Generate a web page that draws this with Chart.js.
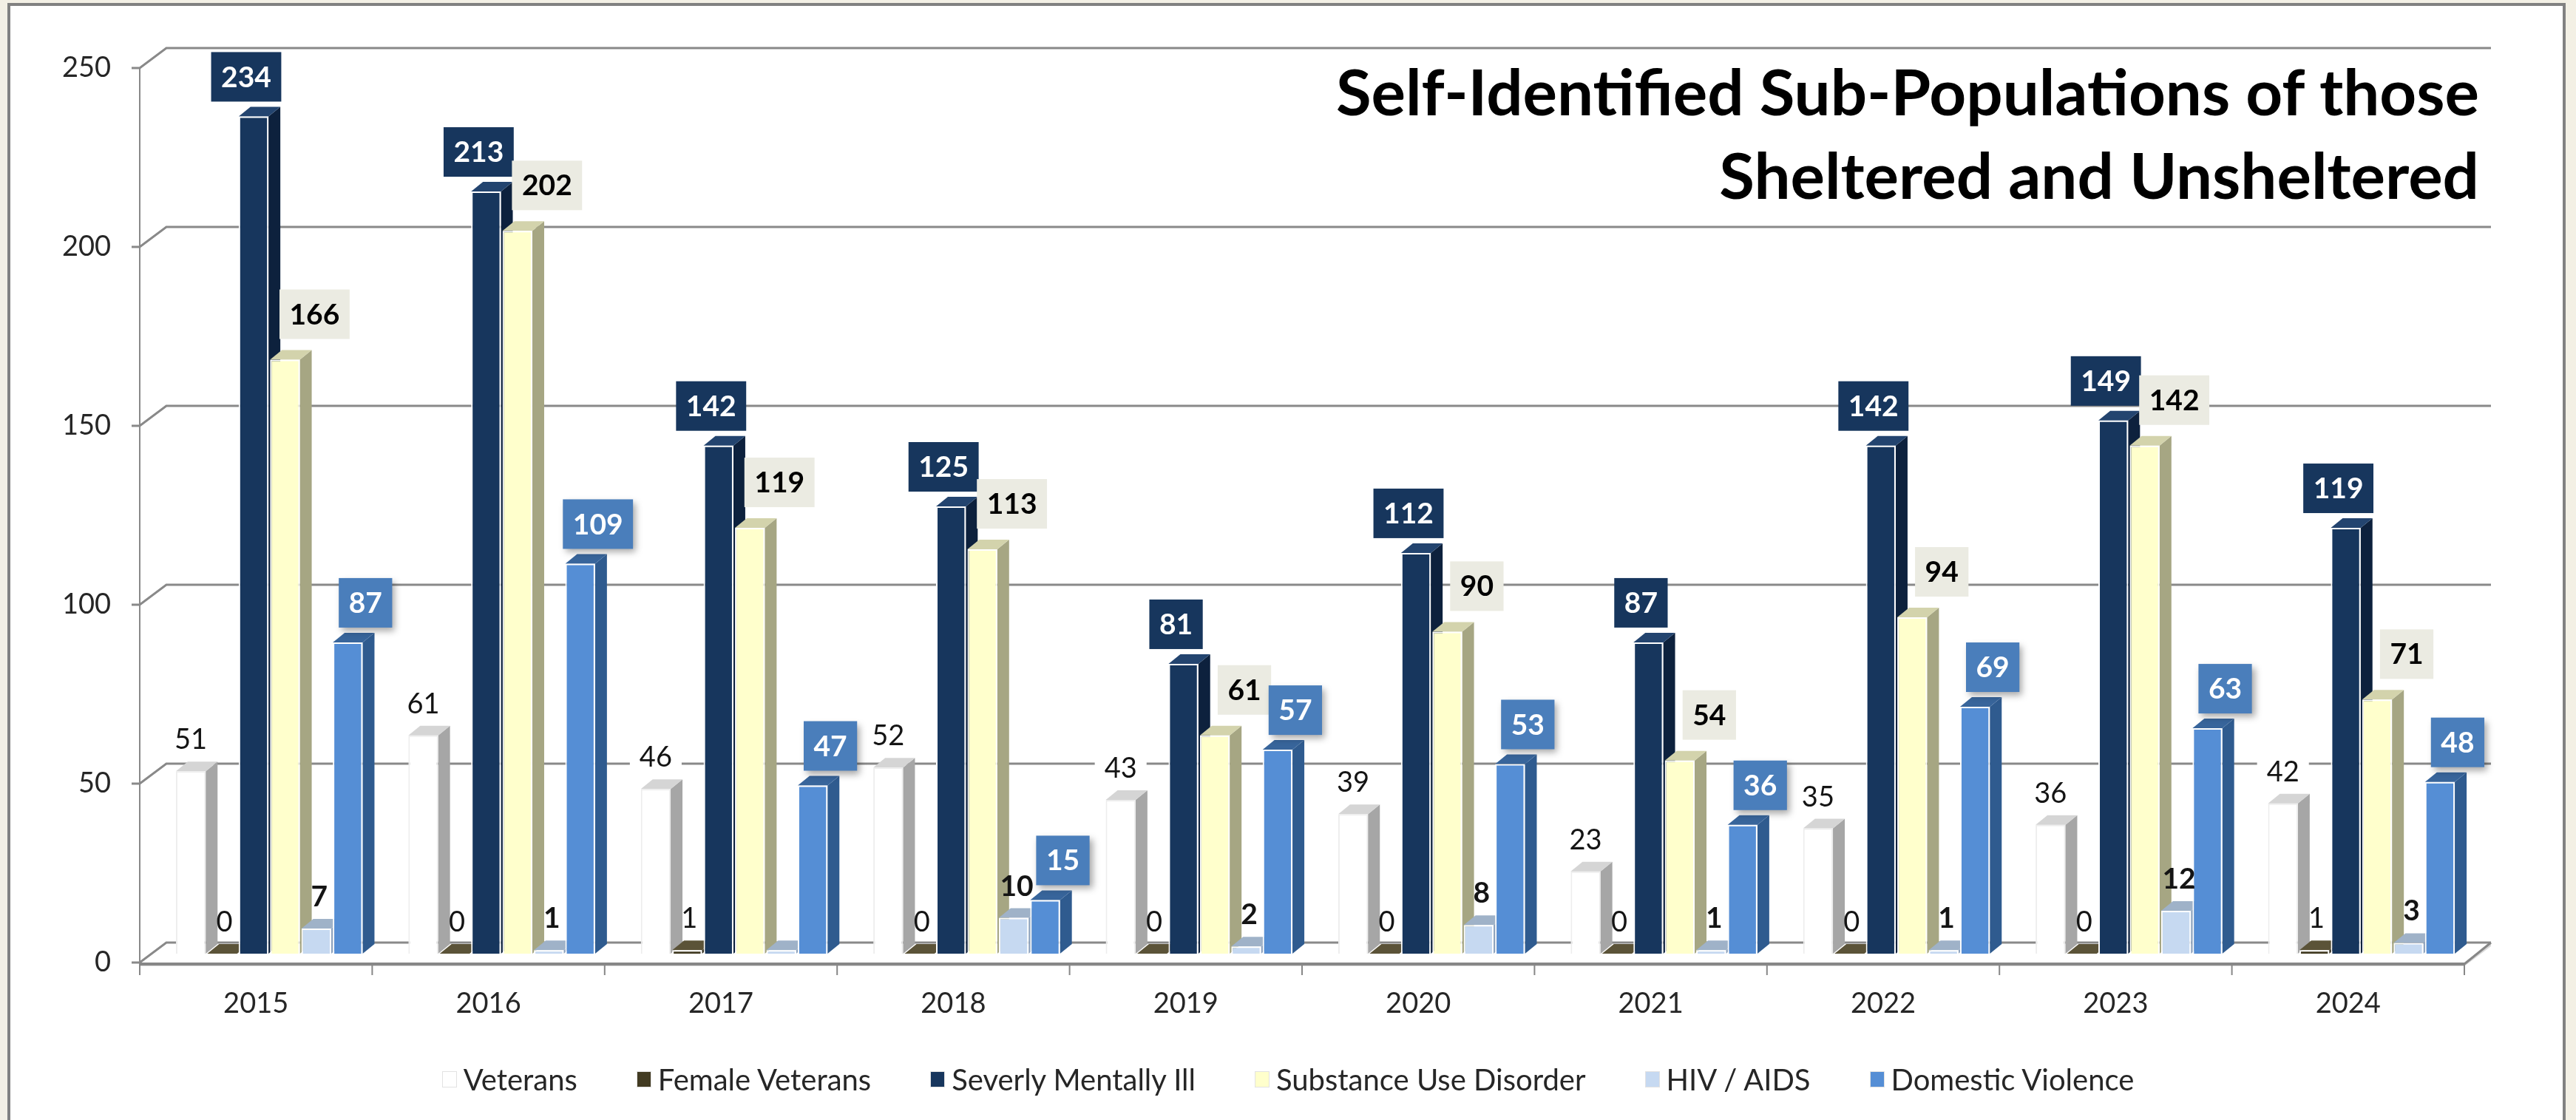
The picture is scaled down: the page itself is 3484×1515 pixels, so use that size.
<!DOCTYPE html>
<html>
<head>
<meta charset="utf-8">
<script src="https://cdn.jsdelivr.net/npm/chart.js@4.4.1/dist/chart.umd.min.js"></script>
<style>
    html, body {
        margin: 0;
        padding: 0;
        width: 3484px;
        height: 1515px;
        overflow: hidden;
        background: #F3F0E5;
        font-family: Lato, sans-serif;
    }
    #painel {
        position: absolute;
        left: 10px;
        top: 4px;
        width: 3452px;
        height: 1600px;
        background: #ffffff;
        border: 4px solid #818181;
    }
    #grafico {
        position: absolute;
        left: 0;
        top: 0;
    }
    #titulo {
        position: absolute;
        right: 131px;
        top: 66px;
        text-align: right;
        font-family: Lato, sans-serif;
        font-weight: bold;
        font-size: 87px;
        line-height: 113px;
        color: #000000;
    }
    #legenda {
        position: absolute;
        left: 0;
        top: 1437px;
        width: 3484px;
        display: flex;
        justify-content: center;
        align-items: center;
        font-size: 40px;
        line-height: 46px;
        color: #262626;
    }
    .item {
        display: flex;
        align-items: center;
        margin: 0 40px;
    }
    .caixa {
        width: 20px;
        height: 22px;
        margin-right: 9px;
        box-sizing: border-box;
        border: 1px solid #e2e2e2;
    }
</style>
</head>
<body>
<div id="painel"></div>
<canvas id="grafico" width="3484" height="1515"></canvas>
<div id="titulo">Self-Identified Sub-Populations of those<br>Sheltered and Unsheltered</div>
<div id="legenda"></div>

<script>

const anos = ["2015", "2016", "2017", "2018", "2019", "2020", "2021", "2022", "2023", "2024"];

const nomesSeries = [
    "Veterans",
    "Female Veterans",
    "Severly Mentally Ill",
    "Substance Use Disorder",
    "HIV / AIDS",
    "Domestic Violence"
];

const veteranos = [51, 61, 46, 52, 43, 39, 23, 35, 36, 42];
const veteranas = [0, 0, 1, 0, 0, 0, 0, 0, 0, 1];
const doencaMental = [234, 213, 142, 125, 81, 112, 87, 142, 149, 119];
const usoSubstancias = [166, 202, 119, 113, 61, 90, 54, 94, 142, 71];
const hivAids = [7, 1, 1, 10, 2, 8, 1, 1, 12, 3];
const violenciaDomestica = [87, 109, 47, 15, 57, 53, 36, 69, 63, 48];

const ticksY = [0, 50, 100, 150, 200, 250];

// colors: front, side, top
const estilos = [
    { frente: "#FFFFFF", lado: "#A6A6A6", topo: "#D5D5D5", borda: "#EDEDED",
      rotulo: { tipo: "plain", fundo: true, dx: 0 } },
    { frente: "#423B22", lado: "#2B2614", topo: "#5B5338", borda: "#FFFFFF",
      rotulo: { tipo: "plain", dx: 3 } },
    { frente: "#17365D", lado: "#0D213D", topo: "#23446F", borda: "#FFFFFF",
      rotulo: { tipo: "box", fundo: "#17365D", cor: "#FFFFFF", dx: -10, gap: 20 } },
    { frente: "#FFFFCC", lado: "#A6A683", topo: "#D3D3AC", borda: "#FFFFFF",
      rotulo: { tipo: "box", fundo: "#EBEBE2", cor: "#000000", dx: 40, gap: 28 } },
    { frente: "#C6D9F1", lado: "#8EA3BE", topo: "#9FB2C8", borda: "#FFFFFF",
      rotulo: { tipo: "bold", dx: 4, esconder: [2] } },
    { frente: "#558ED5", lado: "#2F5B8F", topo: "#38659B", borda: "#FFFFFF",
      rotulo: { tipo: "box", fundo: "#4A7EBB", cor: "#FFFFFF", dx: 24, gap: 20, sombra: true } }
];

const valores = [veteranos, veteranas, doencaMental, usoSubstancias, hivAids, violenciaDomestica];

// 3d offsets
const DX = 16, DY = 13;
const FRENTE_X = -18, FRENTE_Y = 12;
const FUNDO_X = 18, FUNDO_Y = -15;

const grade3d = {
    id: "grade3d",
    beforeDatasetsDraw(chart) {
        const ctx = chart.ctx;
        const area = chart.chartArea;
        const y = chart.scales.y;

        ctx.save();
        ctx.strokeStyle = "#898989";
        ctx.lineWidth = 3;

        ticksY.forEach(v => {
            const py = y.getPixelForValue(v);
            ctx.beginPath();
            ctx.moveTo(area.left + FRENTE_X - 11, py + FRENTE_Y);
            ctx.lineTo(area.left + FRENTE_X, py + FRENTE_Y);
            ctx.lineTo(area.left + FUNDO_X, py + FUNDO_Y);
            ctx.lineTo(area.right + FUNDO_X, py + FUNDO_Y);
            ctx.stroke();
        });

        // front vertical axis
        ctx.lineWidth = 2;
        ctx.beginPath();
        ctx.moveTo(area.left + FRENTE_X, y.getPixelForValue(250) + FRENTE_Y);
        ctx.lineTo(area.left + FRENTE_X, y.getPixelForValue(0) + FRENTE_Y);
        ctx.stroke();

        // floor front edge
        const y0 = y.getPixelForValue(0);
        ctx.fillStyle = "#D9D9D9";
        ctx.beginPath();
        ctx.moveTo(area.left + FRENTE_X, y0 + FRENTE_Y);
        ctx.lineTo(area.right + FRENTE_X, y0 + FRENTE_Y);
        ctx.lineTo(area.right + FUNDO_X, y0 + FUNDO_Y);
        ctx.lineTo(area.right + FUNDO_X, y0 + FUNDO_Y + 5);
        ctx.lineTo(area.right + FRENTE_X, y0 + FRENTE_Y + 5);
        ctx.lineTo(area.left + FRENTE_X, y0 + FRENTE_Y + 5);
        ctx.closePath();
        ctx.fill();
        ctx.strokeStyle = "#878787";
        ctx.lineWidth = 4;
        ctx.beginPath();
        ctx.moveTo(area.left + FRENTE_X, y0 + FRENTE_Y + 2);
        ctx.lineTo(area.right + FRENTE_X, y0 + FRENTE_Y + 2);
        ctx.stroke();
        ctx.lineWidth = 3;
        ctx.beginPath();
        ctx.moveTo(area.right + FRENTE_X, y0 + FRENTE_Y + 2);
        ctx.lineTo(area.right + FUNDO_X, y0 + FUNDO_Y);
        ctx.stroke();

        // category ticks
        const larg = (area.right - area.left) / anos.length;
        ctx.lineWidth = 2;
        for (let k = 0; k <= anos.length; k++) {
            const px = area.left + FRENTE_X + k * larg;
            ctx.beginPath();
            ctx.moveTo(px, y0 + FRENTE_Y);
            ctx.lineTo(px, y0 + FRENTE_Y + 17);
            ctx.stroke();
        }

        // side and top faces, left to right
        valores.forEach((serie, i) => {
            const meta = chart.getDatasetMeta(i);
            const est = estilos[i];
            meta.data.forEach(bar => {
                const x1 = bar.x - bar.width / 2;
                const x2 = bar.x + bar.width / 2;
                const topo = bar.y;
                const base = bar.base;

                ctx.fillStyle = est.lado;
                ctx.beginPath();
                ctx.moveTo(x2, topo);
                ctx.lineTo(x2 + DX, topo - DY);
                ctx.lineTo(x2 + DX, base - DY);
                ctx.lineTo(x2, base);
                ctx.closePath();
                ctx.fill();

                ctx.fillStyle = est.topo;
                ctx.beginPath();
                ctx.moveTo(x1, topo);
                ctx.lineTo(x1 + DX, topo - DY);
                ctx.lineTo(x2 + DX, topo - DY);
                ctx.lineTo(x2, topo);
                ctx.closePath();
                ctx.fill();
            });
        });

        ctx.restore();
    },

    afterDatasetsDraw(chart) {
        const ctx = chart.ctx;
        const y = chart.scales.y;
        const x = chart.scales.x;

        ctx.save();

        // y tick labels
        ctx.font = "38px Lato";
        ctx.fillStyle = "#262626";
        ctx.textAlign = "right";
        ctx.textBaseline = "middle";
        ticksY.forEach(v => {
            ctx.fillText(String(v), 150, y.getPixelForValue(v) + FRENTE_Y);
        });

        // year labels
        ctx.textAlign = "center";
        anos.forEach((ano, i) => {
            ctx.fillText(ano, x.getPixelForValue(i) + FRENTE_X, 1358);
        });

        // data labels
        valores.forEach((serie, i) => {
            const meta = chart.getDatasetMeta(i);
            const r = estilos[i].rotulo;
            meta.data.forEach((bar, j) => {
                if (r.esconder && r.esconder.includes(j)) return;
                const texto = String(serie[j]);
                const cx = bar.x + r.dx;

                if (r.tipo === "box") {
                    ctx.font = "bold 39px Lato";
                    const w = ctx.measureText(texto).width + 27;
                    const h = 67;
                    const x0 = cx - w / 2;
                    const y0 = bar.y - r.gap - h;
                    ctx.save();
                    if (r.sombra) {
                        ctx.shadowColor = "rgba(0,0,0,0.35)";
                        ctx.shadowBlur = 9;
                        ctx.shadowOffsetX = 4;
                        ctx.shadowOffsetY = 5;
                    }
                    ctx.fillStyle = r.fundo;
                    ctx.fillRect(x0, y0, w, h);
                    ctx.restore();
                    ctx.fillStyle = r.cor;
                    ctx.textAlign = "center";
                    ctx.textBaseline = "middle";
                    ctx.fillText(texto, cx, y0 + h / 2 + 1);
                } else {
                    ctx.font = r.tipo === "bold" ? "bold 39px Lato" : "38px Lato";
                    const baseline = bar.y - 30;
                    if (r.fundo) {
                        const w = ctx.measureText(texto).width + 26;
                        ctx.fillStyle = "#FFFFFF";
                        ctx.fillRect(cx - w / 2, baseline - 34, w, 42);
                    }
                    ctx.fillStyle = "#141414";
                    ctx.textAlign = "center";
                    ctx.textBaseline = "alphabetic";
                    ctx.fillText(texto, cx, baseline);
                }
            });
        });

        ctx.restore();
    }
};

const ctx = document.getElementById("grafico");

const grafico = new Chart(ctx, {
    type: "bar",
    data: {
        labels: anos,
        datasets: valores.map((serie, i) => ({
            label: nomesSeries[i],
            data: serie,
            backgroundColor: estilos[i].frente,
            borderColor: estilos[i].borda,
            borderWidth: 2,
            categoryPercentage: 0.81,
            barPercentage: 0.95
        }))
    },
    plugins: [grade3d],
    options: {
        responsive: false,
        animation: false,
        devicePixelRatio: 1,
        layout: {
            padding: { left: 207, right: 133, top: 80, bottom: 225 }
        },
        plugins: {
            legend: { display: false },
            tooltip: { enabled: false },
            title: { display: false }
        },
        scales: {
            x: { display: false },
            y: { display: false, min: 0, max: 250 }
        }
    }
});

// legend
const legenda = document.getElementById("legenda");
nomesSeries.forEach((nome, i) => {
    const item = document.createElement("div");
    item.className = "item";
    const caixa = document.createElement("span");
    caixa.className = "caixa";
    caixa.style.background = estilos[i].frente;
    const texto = document.createElement("span");
    texto.textContent = nome;
    item.appendChild(caixa);
    item.appendChild(texto);
    legenda.appendChild(item);
});

</script>
</body>
</html>
